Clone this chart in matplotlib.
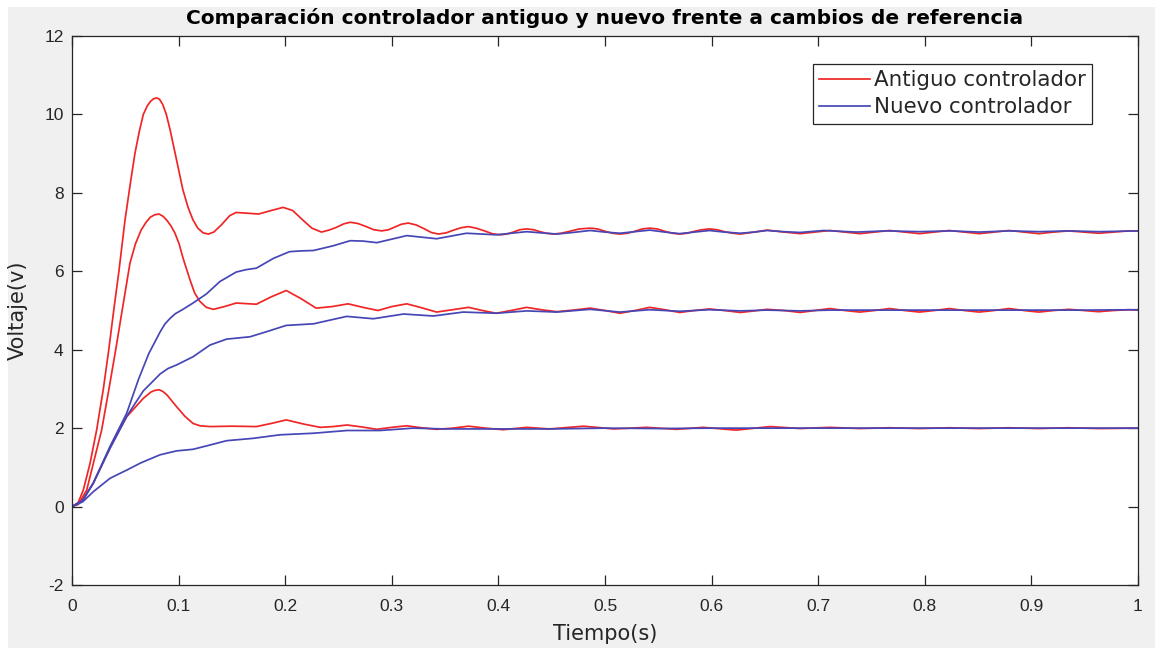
import matplotlib
matplotlib.use("Agg")
import matplotlib.pyplot as plt
from matplotlib.patches import Rectangle

# ---------------- data ----------------
t_old7 = [0, 0.005, 0.0106, 0.0169, 0.0231, 0.0294, 0.0345, 0.0388, 0.044, 0.0497, 0.0545, 0.059,
          0.063, 0.0669, 0.0705, 0.0735, 0.0765, 0.0794, 0.082, 0.085, 0.0885, 0.092, 0.098, 0.104,
          0.109, 0.1135, 0.118, 0.123, 0.128, 0.133, 0.14, 0.148, 0.154, 0.165, 0.175, 0.187,
          0.198, 0.207, 0.216, 0.225, 0.234, 0.241, 0.248, 0.255, 0.261, 0.268, 0.276, 0.283,
          0.2905, 0.297, 0.303, 0.309, 0.3155, 0.323, 0.33, 0.337, 0.3436, 0.351, 0.358, 0.365,
          0.3718, 0.379, 0.387, 0.394, 0.4015, 0.408, 0.414, 0.420, 0.4265, 0.433, 0.439, 0.445,
          0.4515, 0.459, 0.467, 0.476, 0.486, 0.493, 0.50, 0.507, 0.514, 0.521, 0.528, 0.535,
          0.542, 0.549, 0.556, 0.563, 0.570, 0.577, 0.584, 0.591, 0.598, 0.605, 0.612, 0.620,
          0.627, 0.640, 0.652, 0.668, 0.683, 0.697, 0.711, 0.725, 0.739, 0.753, 0.767, 0.781,
          0.795, 0.809, 0.823, 0.837, 0.851, 0.865, 0.879, 0.893, 0.907, 0.921, 0.935, 0.949,
          0.963, 0.977, 0.991, 1.0]
y_old7 = [0, 0.05, 0.42, 1.10, 1.95, 3.0, 4.0, 4.93, 6.0, 7.3, 8.2, 9.0,
          9.55, 10.0, 10.21, 10.33, 10.40, 10.42, 10.39, 10.26, 10.0, 9.61, 8.85, 8.08,
          7.62, 7.31, 7.1, 6.98, 6.95, 7.0, 7.18, 7.42, 7.50, 7.48, 7.46, 7.55,
          7.63, 7.55, 7.32, 7.1, 7.0, 7.05, 7.12, 7.21, 7.25, 7.22, 7.14, 7.06,
          7.03, 7.06, 7.13, 7.2, 7.23, 7.18, 7.09, 6.99, 6.95, 6.98, 7.05, 7.11,
          7.14, 7.1, 7.03, 6.96, 6.93, 6.95, 7.0, 7.06, 7.08, 7.06, 7.01, 6.97,
          6.95, 6.97, 7.02, 7.08, 7.10, 7.08, 7.02, 6.97, 6.95, 6.97, 7.02, 7.08,
          7.10, 7.08, 7.02, 6.97, 6.95, 6.97, 7.02, 7.06, 7.08, 7.06, 7.01, 6.97,
          6.95, 7.0, 7.05, 7.0, 6.96, 7.0, 7.04, 7.0, 6.96, 7.0, 7.04, 7.0,
          6.96, 7.0, 7.04, 7.0, 6.96, 7.0, 7.04, 7.0, 6.96, 7.0, 7.03, 7.0,
          6.97, 7.0, 7.03, 7.03]

t_new7 = [0, 0.01, 0.02, 0.0356, 0.0513, 0.0622, 0.072, 0.0826, 0.087, 0.092, 0.097, 0.1035,
          0.1135, 0.126, 0.1388, 0.154, 0.163, 0.173, 0.189, 0.204, 0.215, 0.2265, 0.245, 0.261,
          0.273, 0.286, 0.300, 0.314, 0.328, 0.342, 0.356, 0.370, 0.384, 0.398, 0.412, 0.4265,
          0.44, 0.4547, 0.47, 0.486, 0.500, 0.514, 0.528, 0.542, 0.556, 0.570, 0.584, 0.598,
          0.612, 0.627, 0.640, 0.652, 0.668, 0.683, 0.705, 0.736, 0.764, 0.795, 0.824, 0.851,
          0.879, 0.907, 0.935, 0.963, 1.0]
y_new7 = [0, 0.15, 0.6, 1.53, 2.38, 3.23, 3.9, 4.45, 4.65, 4.8, 4.92, 5.02,
          5.19, 5.42, 5.74, 5.98, 6.04, 6.08, 6.33, 6.50, 6.52, 6.53, 6.65, 6.78,
          6.77, 6.73, 6.82, 6.91, 6.87, 6.83, 6.9, 6.97, 6.95, 6.93, 6.97, 7.01,
          6.98, 6.95, 6.99, 7.04, 7.0, 6.97, 7.01, 7.05, 7.0, 6.96, 7.0, 7.04,
          7.0, 6.97, 7.0, 7.04, 7.01, 6.99, 7.04, 7.0, 7.03, 7.01, 7.03, 7.0,
          7.03, 7.01, 7.03, 7.01, 7.03]

t_old5 = [0, 0.006, 0.0138, 0.02, 0.0278, 0.035, 0.041, 0.0466, 0.0544, 0.0595, 0.065, 0.0695,
          0.0735, 0.0775, 0.0816, 0.0855, 0.089, 0.093, 0.0966, 0.1005, 0.104, 0.1107, 0.115, 0.120,
          0.126, 0.1326, 0.143, 0.154, 0.173, 0.187, 0.201, 0.215, 0.229, 0.244, 0.259, 0.273,
          0.287, 0.300, 0.314, 0.328, 0.342, 0.357, 0.372, 0.385, 0.398, 0.412, 0.4265, 0.44,
          0.4547, 0.47, 0.486, 0.500, 0.514, 0.528, 0.542, 0.556, 0.570, 0.584, 0.598, 0.612,
          0.627, 0.640, 0.652, 0.668, 0.683, 0.697, 0.711, 0.725, 0.739, 0.753, 0.767, 0.781,
          0.795, 0.809, 0.823, 0.837, 0.851, 0.865, 0.879, 0.893, 0.907, 0.921, 0.935, 0.949,
          0.963, 0.977, 0.991, 1.0]
y_old5 = [0, 0.06, 0.42, 1.10, 1.95, 3.05, 4.0, 4.93, 6.21, 6.7, 7.06, 7.25,
          7.38, 7.44, 7.46, 7.40, 7.3, 7.15, 6.97, 6.7, 6.35, 5.78, 5.45, 5.23,
          5.08, 5.03, 5.1, 5.19, 5.16, 5.35, 5.51, 5.3, 5.06, 5.1, 5.17, 5.08,
          5.0, 5.1, 5.17, 5.07, 4.96, 5.02, 5.08, 5.0, 4.93, 5.0, 5.08, 5.02,
          4.97, 5.01, 5.06, 5.0, 4.93, 5.0, 5.08, 5.02, 4.95, 5.0, 5.04, 5.0,
          4.95, 4.99, 5.03, 5.0, 4.95, 5.0, 5.05, 5.0, 4.96, 5.0, 5.05, 5.0,
          4.96, 5.0, 5.05, 5.0, 4.96, 5.0, 5.05, 5.0, 4.96, 5.0, 5.03, 5.0,
          4.97, 5.0, 5.02, 5.01]

t_new5 = [0, 0.01, 0.02, 0.0356, 0.0513, 0.0669, 0.0779, 0.0826, 0.09, 0.098, 0.1135, 0.1295,
          0.145, 0.167, 0.1826, 0.201, 0.2265, 0.2577, 0.2826, 0.311, 0.339, 0.367, 0.398, 0.4265,
          0.4547, 0.486, 0.514, 0.542, 0.570, 0.598, 0.627, 0.652, 0.683, 0.711, 0.76, 0.8,
          0.85, 0.9, 0.95, 1.0]
y_new5 = [0, 0.16, 0.6, 1.48, 2.3, 2.95, 3.25, 3.38, 3.52, 3.61, 3.82, 4.12,
          4.27, 4.33, 4.46, 4.62, 4.66, 4.85, 4.79, 4.91, 4.86, 4.96, 4.93, 4.99,
          4.96, 5.03, 4.96, 5.02, 4.98, 5.02, 4.99, 5.01, 4.99, 5.01, 5.01, 5.01,
          5.01, 5.01, 5.01, 5.02]

t_old2 = [0, 0.01, 0.02, 0.0356, 0.0513, 0.0669, 0.074, 0.0775, 0.0816, 0.085, 0.089, 0.0935,
          0.098, 0.106, 0.1135, 0.12, 0.1295, 0.15, 0.173, 0.187, 0.201, 0.218, 0.233, 0.245,
          0.258, 0.272, 0.286, 0.300, 0.314, 0.328, 0.342, 0.357, 0.372, 0.388, 0.4045, 0.4265,
          0.448, 0.480, 0.508, 0.539, 0.567, 0.592, 0.623, 0.655, 0.683, 0.711, 0.739, 0.767,
          0.795, 0.823, 0.851, 0.879, 0.907, 0.935, 0.963, 1.0]
y_old2 = [0, 0.17, 0.6, 1.5, 2.29, 2.76, 2.92, 2.96, 2.98, 2.94, 2.85, 2.7,
          2.55, 2.3, 2.12, 2.06, 2.04, 2.05, 2.04, 2.12, 2.21, 2.1, 2.02, 2.04,
          2.08, 2.03, 1.97, 2.02, 2.06, 2.01, 1.97, 2.0, 2.05, 2.0, 1.96, 2.02,
          1.98, 2.05, 1.98, 2.02, 1.97, 2.02, 1.95, 2.04, 1.99, 2.02, 1.99, 2.01,
          1.99, 2.01, 1.99, 2.01, 1.99, 2.01, 1.99, 2.0]

t_new2 = [0, 0.01, 0.02, 0.0356, 0.0513, 0.065, 0.0826, 0.098, 0.1135, 0.1295, 0.145, 0.170,
          0.195, 0.2265, 0.258, 0.289, 0.320, 0.35, 0.4, 0.45, 0.5, 0.55, 0.6, 0.65,
          0.7, 0.75, 0.8, 0.85, 0.9, 0.95, 1.0]
y_new2 = [0, 0.12, 0.38, 0.72, 0.93, 1.12, 1.32, 1.42, 1.46, 1.57, 1.68, 1.74,
          1.83, 1.87, 1.94, 1.94, 2.0, 1.98, 1.98, 1.98, 2.0, 1.99, 2.0, 2.0,
          2.0, 2.0, 2.0, 2.0, 2.0, 2.0, 2.0]

x_ticks = [0, 0.1, 0.2, 0.3, 0.4, 0.5, 0.6, 0.7, 0.8, 0.9, 1]
x_ticklabels = ["0", "0.1", "0.2", "0.3", "0.4", "0.5", "0.6", "0.7", "0.8", "0.9", "1"]
y_ticks = [-2, 0, 2, 4, 6, 8, 10, 12]

title = "Comparación controlador antiguo y nuevo frente a cambios de referencia"
xlabel = "Tiempo(s)"
ylabel = "Voltaje(v)"
labels = ["Antiguo controlador", "Nuevo controlador"]

# ---------------- style ----------------
plt.rcParams['font.family'] = ['Liberation Sans', 'DejaVu Sans']
plt.rcParams['axes.unicode_minus'] = False
WIDE = ['DejaVu Sans']
RED = '#f02626'
BLUE = '#4646b6'
DARK = '#262626'

W, H = 1163, 651
fig = plt.figure(figsize=(W / 100, H / 100), dpi=100, facecolor='white')
bg = Rectangle((8 / W, 3 / H), (1155 - 8) / W, (644 - 3) / H,
               transform=fig.transFigure, facecolor='#f0f0f0',
               edgecolor='none', zorder=-10)
fig.add_artist(bg)

ax = fig.add_axes([72 / W, (H - 585) / H, (1138 - 72) / W, (585 - 36) / H])
ax.set_zorder(1)
ax.set_facecolor('white')

lw = 1.25
ax.plot(t_old7, y_old7, color=RED, lw=lw, label=labels[0])
ax.plot(t_old5, y_old5, color=RED, lw=lw)
ax.plot(t_old2, y_old2, color=RED, lw=lw)
ax.plot(t_new7, y_new7, color=BLUE, lw=lw, label=labels[1])
ax.plot(t_new5, y_new5, color=BLUE, lw=lw)
ax.plot(t_new2, y_new2, color=BLUE, lw=lw)

ax.set_xlim(0, 1)
ax.set_ylim(-2, 12)
ax.set_xticks(x_ticks)
ax.set_xticklabels(x_ticklabels)
ax.set_yticks(y_ticks)

for s in ax.spines.values():
    s.set_color(DARK)
    s.set_linewidth(0.9)
ax.tick_params(direction='in', length=7, width=0.9, colors=DARK, labelsize=12.5,
               top=True, right=True, pad=6)
ax.tick_params(axis='x', pad=10)

ax.set_title(title, fontsize=14.5, fontweight='bold', color='black', pad=8.5, family=WIDE)
ax.set_xlabel(xlabel, fontsize=15, color=DARK, labelpad=7, family=WIDE)
ax.set_ylabel(ylabel, fontsize=15, color=DARK, labelpad=12, family=WIDE)

leg = ax.legend(loc='upper right', bbox_to_anchor=((1092 - 72) / 1066, (585 - 64) / 549),
                borderaxespad=0, prop={'family': WIDE, 'size': 15.4}, frameon=True,
                fancybox=False, handlelength=2.35, handletextpad=0.19, labelspacing=0.33,
                borderpad=0.3)
leg.get_frame().set_edgecolor(DARK)
leg.get_frame().set_linewidth(0.9)
leg.get_frame().set_alpha(1)
for txt in leg.get_texts():
    txt.set_color(DARK)

fig.savefig('out.png', dpi=100, facecolor=fig.get_facecolor())
